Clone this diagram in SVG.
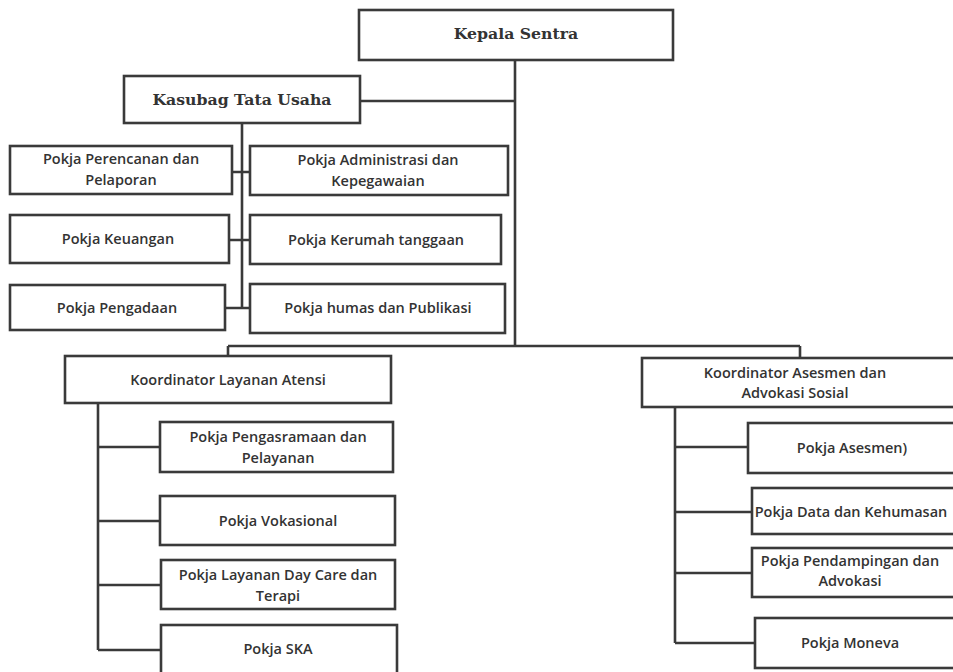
<svg xmlns="http://www.w3.org/2000/svg" width="953" height="672" viewBox="0 0 953 672">
<style>
.box{fill:#fff;stroke:#3a3a3a;stroke-width:2.6}
.ln{fill:none;stroke:#3a3a3a;stroke-width:2.6}
.s{font-family:"Open Sans","Liberation Sans",sans-serif;font-weight:600;font-size:14.5px;fill:#333;text-anchor:middle;dominant-baseline:central}
.t{font-family:"DejaVu Serif","Liberation Serif",serif;font-weight:bold;font-size:15.7px;fill:#333;text-anchor:middle;dominant-baseline:central}
</style>
<rect width="953" height="672" fill="#fff"/>
<g id="connectors">
<path class="ln" d="M515,60 V346 M360,101 H515 M242,123 V308 M232,172 H250 M229,240 H250 M225,308 H250 M228,346 H800 M228,346 V356 M800,346 V358 M98,403 V650 M98,447 H160 M98,521 H160 M98,585 H161 M98,650 H161 M675,407 V643 M675,447 H748 M675,512 H752 M675,573 H752 M675,643 H755"/>
</g>
<g id="kepala"><rect class="box" x="359" y="10" width="314" height="50"/><text class="t" x="516" y="33">Kepala Sentra</text></g>
<g id="kasubag"><rect class="box" x="124" y="76" width="236" height="47"/><text class="t" x="242" y="99">Kasubag Tata Usaha</text></g>
<g id="perencanan"><rect class="box" x="10" y="146" width="222" height="48"/><text class="s" x="121" y="158">Pokja Perencanan dan</text><text class="s" x="121" y="179">Pelaporan</text></g>
<g id="administrasi"><rect class="box" x="250" y="146" width="258" height="49"/><text class="s" x="378" y="159">Pokja Administrasi dan</text><text class="s" x="378" y="180">Kepegawaian</text></g>
<g id="keuangan"><rect class="box" x="10" y="215" width="219" height="48"/><text class="s" x="118" y="238">Pokja Keuangan</text></g>
<g id="kerumah"><rect class="box" x="250" y="215" width="251" height="49"/><text class="s" x="376" y="239">Pokja Kerumah tanggaan</text></g>
<g id="pengadaan"><rect class="box" x="10" y="285" width="215" height="45"/><text class="s" x="117" y="307">Pokja Pengadaan</text></g>
<g id="humas"><rect class="box" x="250" y="284" width="255" height="49"/><text class="s" x="378" y="307">Pokja humas dan Publikasi</text></g>
<g id="koord-layanan"><rect class="box" x="65" y="356" width="326" height="47"/><text class="s" x="228" y="379">Koordinator Layanan Atensi</text></g>
<g id="pengasramaan"><rect class="box" x="160" y="422" width="233" height="50"/><text class="s" x="278" y="436">Pokja Pengasramaan dan</text><text class="s" x="278" y="457">Pelayanan</text></g>
<g id="vokasional"><rect class="box" x="160" y="496" width="235" height="49"/><text class="s" x="278" y="520">Pokja Vokasional</text></g>
<g id="daycare"><rect class="box" x="161" y="560" width="234" height="49"/><text class="s" x="278" y="574">Pokja Layanan Day Care dan</text><text class="s" x="278" y="595">Terapi</text></g>
<g id="ska"><rect class="box" x="161" y="625" width="236" height="60"/><text class="s" x="278" y="648">Pokja SKA</text></g>
<g id="koord-asesmen"><rect class="box" x="642" y="358" width="320" height="49"/><text class="s" x="795" y="372">Koordinator Asesmen dan</text><text class="s" x="795" y="392">Advokasi Sosial</text></g>
<g id="asesmen"><rect class="box" x="748" y="423" width="220" height="50"/><text class="s" x="852" y="447">Pokja Asesmen)</text></g>
<g id="data"><rect class="box" x="752" y="488" width="220" height="46"/><text class="s" x="851" y="511">Pokja Data dan Kehumasan</text></g>
<g id="pendampingan"><rect class="box" x="752" y="548" width="220" height="49"/><text class="s" x="850" y="560">Pokja Pendampingan dan</text><text class="s" x="850" y="580">Advokasi</text></g>
<g id="moneva"><rect class="box" x="755" y="618" width="220" height="50"/><text class="s" x="850" y="642">Pokja Moneva</text></g>
</svg>
